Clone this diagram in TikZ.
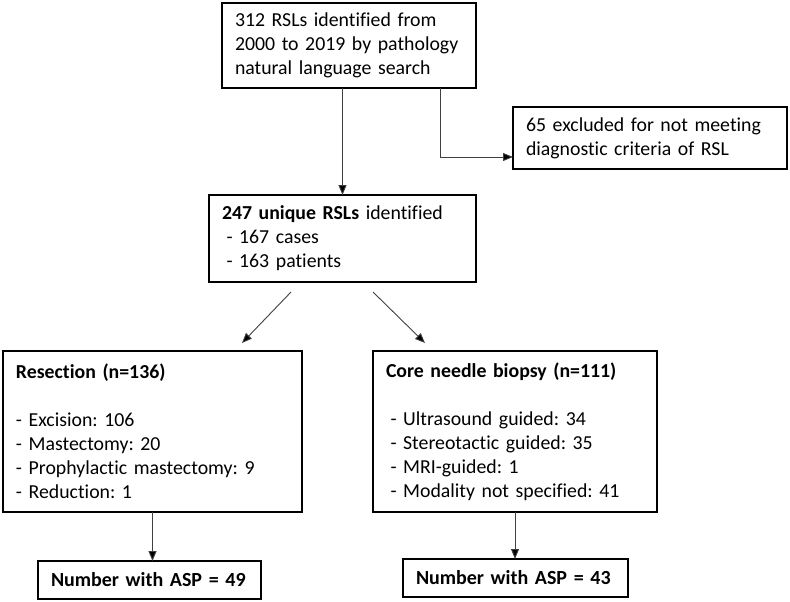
\documentclass[tikz,border=0pt]{standalone}
\usepackage{fontspec}
\setmainfont{Carlito}[Ligatures=NoCommon]
\usetikzlibrary{arrows.meta}
\tikzset{
  box/.style={draw=black, line width=1.3pt, anchor=north west, outer sep=0pt,
    inner xsep=13pt, inner ysep=0pt, align=left,
    font=\fontsize{19.8}{24}\selectfont},
  arr/.style={draw=black!75, line width=0.9pt,
    -{Triangle[length=10pt,width=8pt,fill=black]}},
}
\newcommand{\ind}{\hspace*{4.5pt}}
\frenchspacing
\begin{document}
\frenchspacing
\begin{tikzpicture}[x=1pt,y=-1pt]
\useasboundingbox (0,0) rectangle (790,602);
\node[box, minimum width=254pt, minimum height=85pt, text width=228pt] (A) at (222,3)
  {312 RSLs identified from\\2000 to 2019 by pathology\\natural language search};
\node[box, minimum width=274pt, minimum height=62pt, text width=248pt] (B) at (513,107)
  {65 excluded for not meeting\\diagnostic criteria of RSL};
\node[box, minimum width=267pt, minimum height=87pt, text width=241pt] (C) at (209,195)
  {\textbf{247 unique RSLs} identified\\\ind- 167 cases\\\ind- 163 patients};
\node[box, minimum width=299pt, minimum height=161pt, text width=273pt] (D) at (3,351)
  {\textbf{Resection (n=136)}\\[24pt]- Excision: 106\\- Mastectomy: 20\\- Prophylactic mastectomy: 9\\- Reduction: 1};
\node[box, minimum width=284pt, minimum height=161pt, text width=258pt] (E) at (373,351)
  {\textbf{Core needle biopsy (n=111)}\\[24pt]\ind- Ultrasound guided: 34\\\ind- Stereotactic guided: 35\\\ind- MRI-guided: 1\\\ind- Modality not specified: 41};
\node[box, minimum width=223pt, minimum height=38pt, text width=197pt, font=\fontsize{20}{24}\selectfont\bfseries] (F) at (38,561)
  {Number with ASP = 49};
\node[box, minimum width=225pt, minimum height=38pt, text width=199pt, font=\fontsize{20}{24}\selectfont\bfseries] (G) at (403,559)
  {Number with ASP = 43};
% connectors
\coordinate (elb) at (440,157);
\draw[arr] (A.south -| elb) -- (elb) -- (elb -| B.west);
\draw[arr] (C.north |- A.south) -- (C.north);
\coordinate (c1) at (291,292);
\coordinate (d1) at (242,343);
\coordinate (c2) at (373,292);
\coordinate (e1) at (425,343);
\draw[arr] (c1) -- (d1);
\draw[arr] (c2) -- (e1);
\draw[arr] (D.south) -- (D.south |- F.north);
\draw[arr] (E.south) -- (E.south |- G.north);
\end{tikzpicture}
\end{document}
